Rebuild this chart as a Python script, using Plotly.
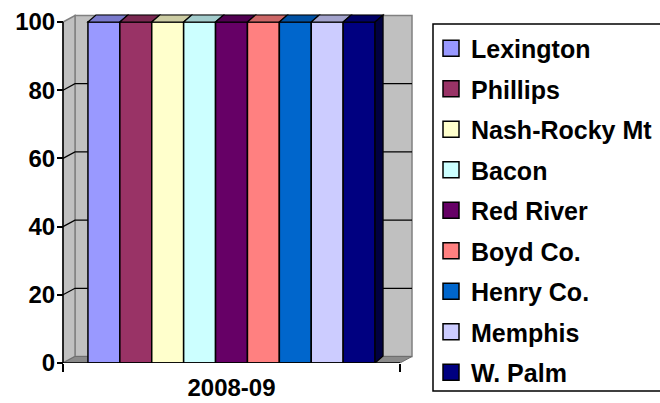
import plotly.graph_objects as go

# ---------------- data ----------------
CATEGORIES = ["2008-09"]
SERIES_NAMES = ["Lexington", "Phillips", "Nash-Rocky Mt", "Bacon", "Red River",
                "Boyd Co.", "Henry Co.", "Memphis", "W. Palm"]
SERIES_VALUES = [100, 100, 100, 100, 100, 100, 100, 100, 100]
SERIES_COLORS = ["#9999FF", "#993366", "#FFFFCC", "#CCFFFF", "#660066",
                 "#FF8080", "#0066CC", "#CCCCFF", "#000080"]
Y_TICKS = [0, 20, 40, 60, 80, 100]

# ---------------- layout geometry (pixels) ----------------
W, H = 660, 403
PLOT_L, PLOT_R = 60, 413
PLOT_T, PLOT_B = 12, 363
AX_L_PX, AX_R_PX = 63, 400      # front ends of the category axis
Y100_PX = 22                     # pixel row of value 100 on the front plane
WALL_DX, WALL_DY = 12, 6.5       # depth of the walls (px)
BAR_DX, BAR_DY = 8, 7            # depth of the columns (px)
BARGAP = 0.148

px_x = (AX_R_PX - AX_L_PX) / 1.0
px_y = (PLOT_B - Y100_PX) / 100.0
x_range = [-0.5 - (AX_L_PX - PLOT_L) / px_x, 0.5 + (PLOT_R - AX_R_PX) / px_x]
y_range = [0, (PLOT_B - PLOT_T) / px_y]


def fx(px):
    return px / W


def fy(py):
    return 1 - py / H


def shade(hexc, f):
    h = hexc.lstrip("#")
    r, g, b = (int(h[i:i + 2], 16) for i in (0, 2, 4))
    return "#%02X%02X%02X" % (int(r * f), int(g * f), int(b * f))


FONT = "Liberation Sans, Arial, sans-serif"

fig = go.Figure()
for name, val, col in zip(SERIES_NAMES, SERIES_VALUES, SERIES_COLORS):
    fig.add_trace(go.Bar(
        x=CATEGORIES, y=[val], name=name, legendgroup=name, showlegend=False,
        marker=dict(color=col, line=dict(color="black", width=1.5)),
    ))
    # legend key (bigger square swatch)
    fig.add_trace(go.Scatter(
        x=[None], y=[None], mode="markers", name=name, legendgroup=name,
        marker=dict(symbol="square", size=16, color=col,
                    line=dict(color="black", width=1.5)),
    ))

shapes = []
wdx, wdy = WALL_DX / px_x, WALL_DY / px_y
bdx, bdy = BAR_DX / px_x, BAR_DY / px_y
xl, xr = -0.5, 0.5
xr_wall = x_range[1] - 1 / px_x
ymax = max(Y_TICKS)

# back wall
shapes.append(dict(type="rect", xref="x", yref="y", layer="below",
                   x0=xl + wdx, x1=xr_wall, y0=wdy, y1=ymax + wdy,
                   fillcolor="#C0C0C0", line=dict(color="#808080", width=1.5)))
# left side wall
shapes.append(dict(type="path", xref="x", yref="y", layer="below",
                   path=f"M{xl},0 L{xl},{ymax} L{xl + wdx},{ymax + wdy} L{xl + wdx},{wdy} Z",
                   fillcolor="#C0C0C0", line=dict(color="#808080", width=1.5)))
# floor
shapes.append(dict(type="path", xref="x", yref="y", layer="below",
                   path=f"M{xl},0 L{xr},0 L{xr_wall},{wdy} L{xl + wdx},{wdy} Z",
                   fillcolor="#8A8A8A", line=dict(color="#6E6E6E", width=1)))
# gridlines on side and back wall
for v in Y_TICKS:
    if v == 0 or v == ymax:
        continue
    shapes.append(dict(type="path", xref="x", yref="y", layer="below",
                       path=f"M{xl},{v} L{xl + wdx},{v + wdy} L{xr_wall},{v + wdy}",
                       line=dict(color="black", width=1.2)))

# column tops and right side
n = len(SERIES_VALUES)
bw = (1 - BARGAP) / n
g0 = -0.5 * (1 - BARGAP)
for i, (val, col) in enumerate(zip(SERIES_VALUES, SERIES_COLORS)):
    x0 = g0 + i * bw
    x1 = x0 + bw
    shapes.append(dict(type="path", xref="x", yref="y", layer="above",
                       path=f"M{x0},{val} L{x1},{val} L{x1 + bdx},{val + bdy} L{x0 + bdx},{val + bdy} Z",
                       fillcolor=shade(col, 0.8), line=dict(color="black", width=1.2)))
    if i == n - 1:
        shapes.append(dict(type="path", xref="x", yref="y", layer="above",
                           path=f"M{x1},0 L{x1},{val} L{x1 + bdx},{val + bdy} L{x1 + bdx},{bdy} Z",
                           fillcolor=shade(col, 0.5), line=dict(color="black", width=1.2)))

# axis lines
shapes.append(dict(type="line", xref="x", yref="y", layer="above",
                   x0=xl, x1=xl, y0=0, y1=ymax, line=dict(color="black", width=1.5)))
shapes.append(dict(type="line", xref="x", yref="y", layer="above",
                   x0=xl, x1=xr, y0=0, y1=0, line=dict(color="black", width=1.5)))
# legend frame
shapes.append(dict(type="rect", xref="paper", yref="paper", layer="above",
                   x0=fx(433), x1=fx(700), y0=fy(391), y1=fy(24),
                   line=dict(color="black", width=1.5), fillcolor="rgba(0,0,0,0)"))

fig.update_layout(
    width=W, height=H,
    margin=dict(l=0, r=0, t=0, b=0, pad=0, autoexpand=False),
    paper_bgcolor="white", plot_bgcolor="rgba(0,0,0,0)",
    barmode="group", bargap=BARGAP, bargroupgap=0,
    shapes=shapes,
    showlegend=True,
    legend=dict(x=fx(431), y=fy(25.5), xanchor="left", yanchor="top",
                bgcolor="rgba(0,0,0,0)", borderwidth=0,
                traceorder="grouped", tracegroupgap=5,
                font=dict(family=FONT, size=25, color="black", weight="bold")),
    xaxis=dict(type="category", domain=[fx(PLOT_L), fx(PLOT_R)], range=x_range,
               anchor="y", showgrid=False, zeroline=False, showline=False,
               tickson="boundaries", ticks="outside", ticklen=8, tickwidth=1.5,
               tickcolor="black", automargin=False, ticklabelstandoff=8,
               tickfont=dict(family=FONT, size=24, color="black", weight="bold")),
    yaxis=dict(range=y_range, domain=[fy(PLOT_B), fy(PLOT_T)],
               anchor="free", position=fx(AX_L_PX),
               tickvals=Y_TICKS, showgrid=False, zeroline=False, showline=False,
               ticks="outside", ticklen=6, tickwidth=1.5, tickcolor="black",
               automargin=False, ticklabelstandoff=-3,
               tickfont=dict(family=FONT, size=24, color="black", weight="bold")),
)

fig.write_html("out.html", config={"displayModeBar": False},
               post_script="document.body.style.margin='0';")
